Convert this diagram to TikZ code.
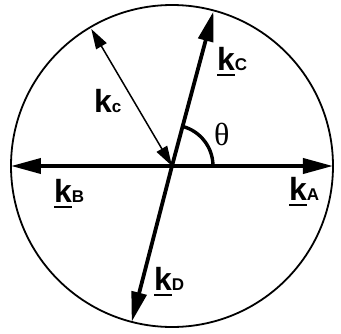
\documentclass[tikz,border=0pt]{standalone}
\usepackage{fontspec}
\setmainfont{Liberation Sans}
\newfontfamily\greekfont{Liberation Serif}
\usetikzlibrary{arrows.meta}

% underlined wave vector k with a small index
\newcommand{\kvec}[1]{\textbf{\makebox[0pt][l]{\rule[-0.2em]{0.56em}{0.08em}}k{\fontsize{17}{19}\selectfont #1}}}

\begin{document}
\begin{tikzpicture}[x=1pt, y=1pt,
    bigvec/.style={line width=3.8pt, -{Triangle[length=30pt,width=15pt]}},
    radvec/.style={line width=1.5pt,
                   {Triangle[length=20pt,width=12pt]}-{Triangle[length=20pt,width=12pt]}},
    klabel/.style={anchor=base west, inner sep=0pt,
                   font=\fontsize{32}{38}\selectfont}
  ]
    \useasboundingbox (-172,-167) rectangle (169,166);

    % Circle
    \coordinate (O) at (0,0);
    \draw[line width=1.8pt] (O) circle [radius=161];

    % Vector tips on the circle
    \coordinate (A) at (0:161);
    \coordinate (B) at (180:161);
    \coordinate (C) at (75:160);
    \coordinate (D) at (255.5:161);
    \coordinate (R) at (120.5:159);

    % Vectors
    \draw[bigvec] (O) -- (A);
    \draw[bigvec] (O) -- (B);
    \draw[bigvec] (O) -- (C);
    \draw[bigvec] (O) -- (D);
    \draw[radvec] (R) -- (O);

    % Angle theta
    \draw[line width=3.4pt] (O) ++(0:41) arc [start angle=0, end angle=75, radius=41];
    \node[klabel] (theta) at (42,21) {\greekfont θ};

    % Labels
    \node[klabel] (kA) at (117,-34)  {\kvec{A}};
    \node[klabel] (kB) at (-118,-36) {\kvec{B}};
    \node[klabel] (kC) at (45,96)    {\kvec{C}};
    \node[klabel] (kD) at (-18,-124) {\kvec{D}};
    \node[klabel] (kc) at (-78,54)   {\textbf{k{\fontsize{17}{19}\selectfont c}}};
  \end{tikzpicture}
\end{document}
